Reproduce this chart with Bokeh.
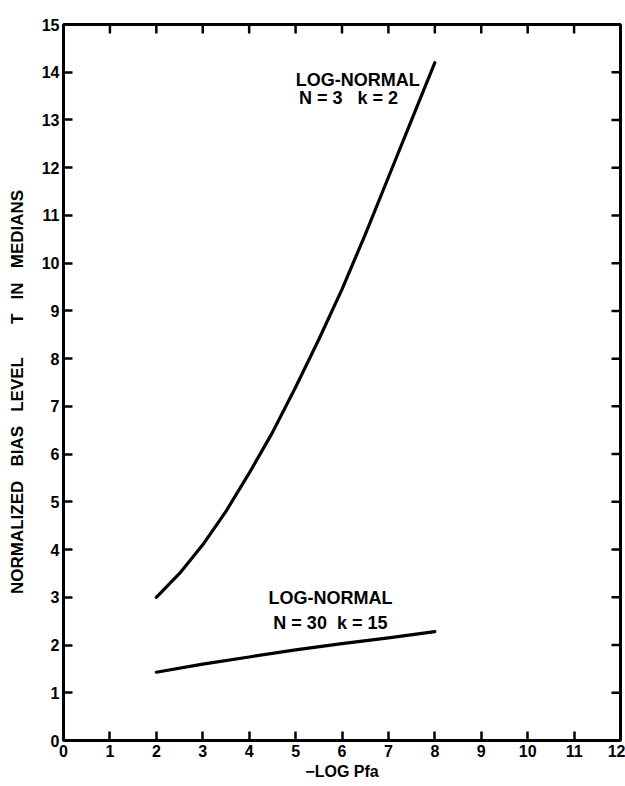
import math
from bokeh.plotting import figure
from bokeh.models import Range1d, FixedTicker, Label
from bokeh.embed import file_html
from bokeh.resources import INLINE

# ---- data ----
x_ticks = list(range(0, 13))
y_ticks = list(range(0, 16))

x_n3 = [2, 2.5, 3, 3.5, 4, 4.5, 5, 5.5, 6, 6.5, 7, 7.5, 8]
y_n3 = [3.0, 3.5, 4.1, 4.8, 5.6, 6.45, 7.4, 8.4, 9.45, 10.6, 11.8, 13.0, 14.2]

x_n30 = [2, 3, 4, 5, 6, 7, 8]
y_n30 = [1.43, 1.6, 1.75, 1.9, 2.03, 2.15, 2.28]

NB = "\u00a0"
label_n3 = ["LOG-NORMAL", "N = 3" + NB * 3 + "k = 2"]
label_n30 = ["LOG-NORMAL", "N = 30" + NB * 2 + "k = 15"]
x_title = "−LOG Pfa"
y_title = (NB * 3).join(["NORMALIZED", "BIAS", "LEVEL"]) + NB * 7 + "T" + NB * 3 + "IN" + NB * 3 + "MEDIANS" + NB * 4

FONT = "Liberation Sans"

p = figure(width=625, height=786, output_backend="svg", toolbar_location=None,
           x_range=Range1d(0, 12), y_range=Range1d(0, 15),
           min_border_left=63, min_border_right=5, min_border_top=24, min_border_bottom=46,
           x_axis_label=x_title, y_axis_label=y_title)
p.grid.visible = False
p.outline_line_color = "black"
p.outline_line_width = 3
p.background_fill_color = "white"
p.border_fill_color = "white"

for ax, ticks in ((p.xaxis[0], x_ticks), (p.yaxis[0], y_ticks)):
    ax.ticker = FixedTicker(ticks=ticks)
    ax.axis_line_width = 3
    ax.axis_line_color = "black"
    ax.major_tick_in = 9
    ax.major_tick_out = 0
    ax.major_tick_line_width = 2.5
    ax.major_tick_line_color = "black"
    ax.minor_tick_line_color = None
    ax.major_label_text_font = FONT
    ax.major_label_text_font_style = "bold"
    ax.major_label_text_color = "black"
    ax.major_label_text_font_size = "16px"
    ax.major_label_standoff = 4
    ax.axis_label_text_font = FONT
    ax.axis_label_text_font_style = "bold"
    ax.axis_label_text_color = "black"

p.xaxis[0].axis_label_text_font_size = "16px"
p.xaxis[0].axis_label_standoff = 3
p.yaxis[0].axis_label_text_font_size = "17px"
p.yaxis[0].axis_label_standoff = 12

# inward ticks on the top and right edges of the frame
p.ray(x=x_ticks[1:-1], y=[y_ticks[-1]] * (len(x_ticks) - 2), length=9, length_units="screen",
      angle=-math.pi / 2, line_color="black", line_width=2.5)
p.ray(x=[x_ticks[-1]] * (len(y_ticks) - 2), y=y_ticks[1:-1], length=9, length_units="screen",
      angle=math.pi, line_color="black", line_width=2.5)

p.line(x_n3, y_n3, line_color="black", line_width=3.2, line_join="round", line_cap="round")
p.line(x_n30, y_n30, line_color="black", line_width=3.2, line_join="round", line_cap="round")

def add_label(x, y, text):
    p.add_layout(Label(x=x, y=y, text=text, text_font=FONT, text_font_style="bold",
                       text_font_size="18px", text_align="center", text_baseline="middle",
                       text_color="black"))

add_label(6.34, 13.84, label_n3[0])
add_label(6.14, 13.46, label_n3[1])
add_label(5.75, 2.98, label_n30[0])
add_label(5.75, 2.47, label_n30[1])

open("out.html", "w").write(file_html(p, INLINE))
